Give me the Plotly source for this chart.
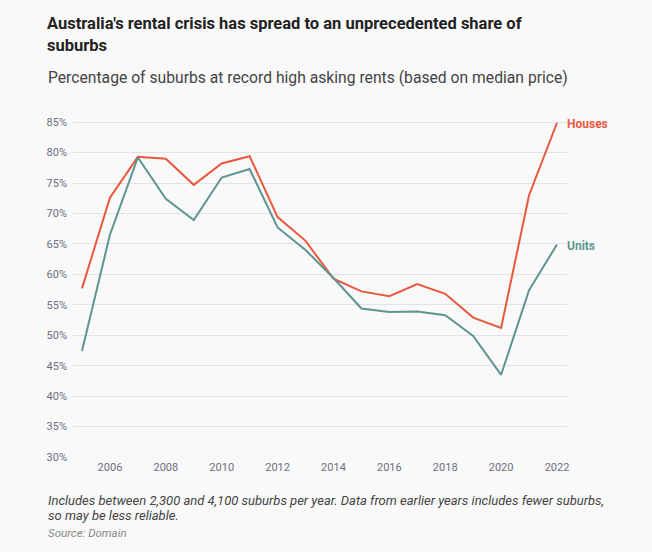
import plotly.graph_objects as go

years = list(range(2005, 2023))
houses = [57.7, 72.6, 79.3, 79.0, 74.7, 78.2, 79.4, 69.4, 65.5, 59.3,
          57.2, 56.4, 58.4, 56.8, 52.9, 51.2, 73.0, 84.9]
units = [47.4, 66.5, 79.2, 72.4, 68.9, 75.9, 77.3, 67.7, 64.0, 59.4,
         54.4, 53.8, 53.9, 53.3, 49.9, 43.5, 57.4, 64.9]
y_ticks = list(range(30, 90, 5))
y_tick_labels = [f"{v}%" for v in y_ticks]
x_ticks = list(range(2006, 2023, 2))

HOUSE_C = "#E8583D"
UNIT_C = "#5E9590"
BG = "#F9F9F9"

fig = go.Figure()
fig.add_trace(go.Scatter(x=years, y=houses, mode="lines", name="Houses",
                         line=dict(color=HOUSE_C, width=2), hoverinfo="skip"))
fig.add_trace(go.Scatter(x=years, y=units, mode="lines", name="Units",
                         line=dict(color=UNIT_C, width=2), hoverinfo="skip"))

L, R, T, B = 73, 85, 120, 95
W, H = 652, 552
pw, ph = W - L - R, H - T - B

def px(xp):
    return (xp - L) / pw

def py(yp):
    return (H - B - yp) / ph

ann = []
ann.append(dict(text="<b>Australia's rental crisis has spread to an unprecedented share of</b>",
                x=px(45), y=py(24), xanchor="left", yanchor="middle", align="left",
                font=dict(family="Roboto, sans-serif", size=16.5, color="#222222")))
ann.append(dict(text="<b>suburbs</b>",
                x=px(45), y=py(46), xanchor="left", yanchor="middle", align="left",
                font=dict(family="Roboto, sans-serif", size=16.5, color="#222222")))
ann.append(dict(text="Percentage of suburbs at record high asking rents (based on median price)",
                x=px(46), y=py(78), xanchor="left", yanchor="middle", align="left",
                font=dict(family="Roboto, sans-serif", size=15.7, color="#444444")))
ann.append(dict(text="<i>Includes between 2,300 and 4,100 suburbs per year. Data from earlier years includes fewer suburbs,</i>",
                x=px(46), y=py(500), xanchor="left", yanchor="middle", align="left",
                font=dict(family="Roboto, sans-serif", size=13, color="#444444")))
ann.append(dict(text="<i>so may be less reliable.</i>",
                x=px(46), y=py(515), xanchor="left", yanchor="middle", align="left",
                font=dict(family="Roboto, sans-serif", size=13, color="#444444")))
ann.append(dict(text="<i>Source: Domain</i>",
                x=px(46), y=py(533), xanchor="left", yanchor="middle", align="left",
                font=dict(family="Roboto, sans-serif", size=11.5, color="#888888")))
ann.append(dict(text="<b>Houses</b>", x=years[-1], y=houses[-1], xref="x", yref="y",
                xanchor="left", yanchor="middle", xshift=8, yshift=-1, showarrow=False,
                font=dict(family="Roboto, sans-serif", size=12, color=HOUSE_C)))
ann.append(dict(text="<b>Units</b>", x=years[-1], y=units[-1], xref="x", yref="y",
                xanchor="left", yanchor="middle", xshift=8, yshift=-1, showarrow=False,
                font=dict(family="Roboto, sans-serif", size=12, color=UNIT_C)))
for a in ann:
    a.setdefault("xref", "paper")
    a.setdefault("yref", "paper")
    a.setdefault("showarrow", False)

fig.update_layout(
    width=W, height=H,
    margin=dict(l=L, r=R, t=T, b=B),
    paper_bgcolor=BG, plot_bgcolor=BG,
    showlegend=False,
    annotations=ann,
    font=dict(family="Roboto, sans-serif", size=11, color="#6E6E80"),
    xaxis=dict(range=[2004.678, 2022.358], tickvals=x_ticks, showgrid=False,
               zeroline=False, showline=False, ticks="", ticklen=0,
               ticklabelstandoff=2,
               tickfont=dict(size=11, color="#6E6E80")),
    yaxis=dict(range=[30, 85.35], tickvals=y_ticks, ticktext=y_tick_labels,
               showgrid=True, gridcolor="#E2E2E8", gridwidth=1, zeroline=False,
               showline=False, ticks="", ticklabelstandoff=5,
               tickfont=dict(size=11, color="#6E6E80")),
)

fig.write_html("out.html")
